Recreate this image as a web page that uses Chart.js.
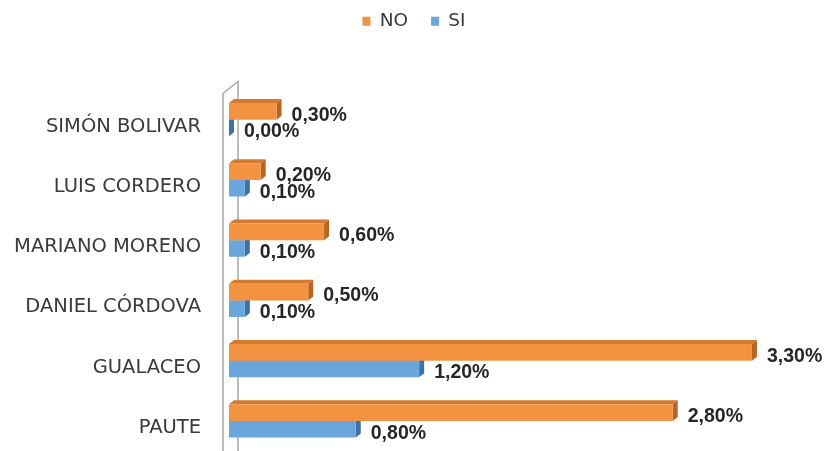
<!DOCTYPE html>
<html><head><meta charset="utf-8">
<script src="https://cdn.jsdelivr.net/npm/chart.js@4.4.1/dist/chart.umd.min.js"></script>
<style>html,body{margin:0;padding:0;background:#fff;overflow:hidden}canvas{display:block}</style>
</head><body><canvas id="c" width="828" height="451" style="width:828px;height:451px"></canvas>
<script>
const categories = ['SIMÓN BOLIVAR', 'LUIS CORDERO', 'MARIANO MORENO', 'DANIEL CÓRDOVA', 'GUALACEO', 'PAUTE'];
const seriesNames = ['NO', 'SI'];
const noValues = [0.30, 0.20, 0.60, 0.50, 3.30, 2.80];
const siValues = [0.00, 0.10, 0.10, 0.10, 1.20, 0.80];

const COLORS = {
  NO: {front: '#F39342', top: '#D47A30', side: '#B9641F'},
  SI: {front: '#6AA6DB', top: '#5A8FC0', side: '#3C72A5'}
};
const DEPTH_X = 5, DEPTH_Y = 4;

function fmt(v) { return v.toFixed(2).replace('.', ',') + '%'; }

const wallAndDepth = {
  id: 'wallAndDepth',
  beforeDatasetsDraw(chart) {
    const ctx = chart.ctx, a = chart.chartArea;
    ctx.save();
    ctx.strokeStyle = '#A6A6A6';
    ctx.lineWidth = 1.5;
    const fx = a.left - 6, bx = a.left + 9;
    ctx.beginPath();
    ctx.moveTo(fx, a.bottom + 2);
    ctx.lineTo(fx, a.top + 4);
    ctx.lineTo(bx, a.top - 8);
    ctx.lineTo(bx, a.bottom + 2);
    ctx.stroke();
    for (let d = chart.data.datasets.length - 1; d >= 0; d--) {
      const meta = chart.getDatasetMeta(d);
      const c = COLORS[chart.data.datasets[d].label];
      meta.data.forEach(el => {
        const h = el.height;
        const top = el.y - h / 2, bottom = el.y + h / 2;
        const x0 = el.base, xe = el.x;
        ctx.fillStyle = c.top;
        ctx.beginPath();
        ctx.moveTo(x0, top);
        ctx.lineTo(x0 + DEPTH_X, top - DEPTH_Y);
        ctx.lineTo(xe + DEPTH_X, top - DEPTH_Y);
        ctx.lineTo(xe, top);
        ctx.closePath();
        ctx.fill();
        ctx.fillStyle = c.side;
        ctx.beginPath();
        ctx.moveTo(xe, top);
        ctx.lineTo(xe + DEPTH_X, top - DEPTH_Y);
        ctx.lineTo(xe + DEPTH_X, bottom - DEPTH_Y);
        ctx.lineTo(xe, bottom);
        ctx.closePath();
        ctx.fill();
      });
    }
    ctx.restore();
  },
  afterDatasetsDraw(chart) {
    const ctx = chart.ctx;
    ctx.save();
    ctx.font = 'bold 19.5px "Liberation Sans"';
    ctx.fillStyle = '#262626';
    ctx.textAlign = 'left';
    ctx.textBaseline = 'middle';
    chart.data.datasets.forEach((ds, d) => {
      const meta = chart.getDatasetMeta(d);
      meta.data.forEach((el, i) => {
        ctx.fillText(fmt(ds.data[i]), el.x + 15, el.y + 4);
      });
    });
    ctx.restore();
  }
};

const legendSpace = {
  id: 'legendSpace',
  beforeLayout(chart) {
    const lg = chart.legend;
    if (lg && !lg._patched) {
      const orig = lg.fit.bind(lg);
      lg.fit = function () { orig(); this.height = 100.5; };
      lg._patched = true;
    }
  }
};

new Chart(document.getElementById('c'), {
  type: 'bar',
  data: {
    labels: categories,
    datasets: [
      {label: seriesNames[0], data: noValues, backgroundColor: COLORS.NO.front, borderWidth: 0,
       categoryPercentage: 0.555, barPercentage: 1.0},
      {label: seriesNames[1], data: siValues, backgroundColor: COLORS.SI.front, borderWidth: 0,
       categoryPercentage: 0.555, barPercentage: 1.0}
    ]
  },
  options: {
    indexAxis: 'y',
    responsive: false,
    maintainAspectRatio: false,
    animation: false,
    devicePixelRatio: 1,
    layout: {padding: {top: -11, right: 0, bottom: 0, left: 0}},
    scales: {
      x: {display: false, min: 0, max: 3.78},
      y: {
        grid: {display: false, drawTicks: false},
        border: {display: false},
        ticks: {
          font: {family: '"DejaVu Sans"', size: 19.5},
          color: '#3A3A3A',
          padding: 28,
          labelOffset: 7
        },
        afterFit(s) { s.width = 229; s.paddingTop = 0; s.paddingBottom = 0; }
      }
    },
    plugins: {
      legend: {
        position: 'top',
        labels: {
          boxWidth: 8, boxHeight: 9, padding: 23,
          font: {family: '"DejaVu Sans"', size: 18.5},
          color: '#3A3A3A'
        }
      },
      tooltip: {enabled: false}
    }
  },
  plugins: [wallAndDepth, legendSpace]
});
</script></body></html>
